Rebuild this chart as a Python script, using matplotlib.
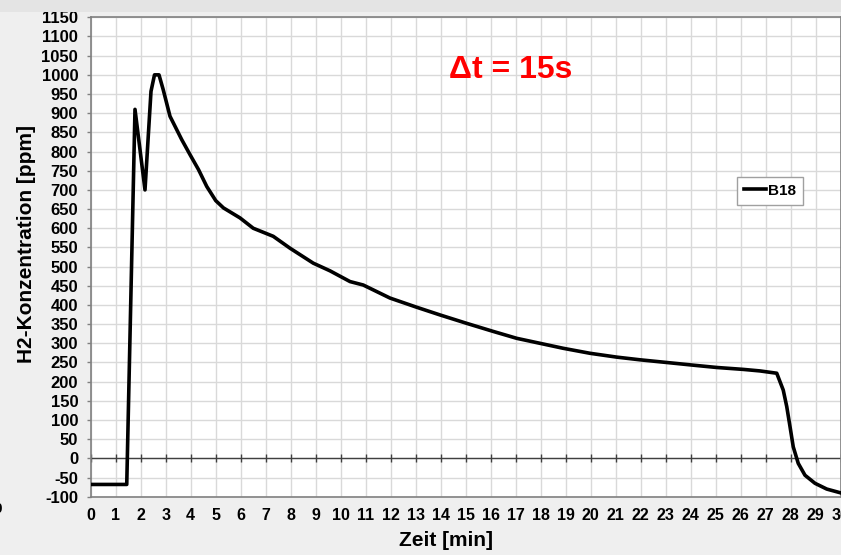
import matplotlib

matplotlib.use("Agg")
import matplotlib.pyplot as plt
import numpy as np
from matplotlib.patches import Rectangle

# H2 concentration of sample B18 over time.
zeit_min = [0.0, 1.44, 1.77, 2.17, 2.41, 2.55, 2.73, 2.9, 3.17, 3.64, 3.97,
            4.31, 4.64, 5.0, 5.31, 5.97, 6.5, 7.3, 7.97, 8.9, 9.57, 10.37,
            10.9, 11.97, 13.04, 13.97, 15.04, 16.1, 17.04, 17.97, 18.9,
            19.97, 21.04, 21.97, 23.04, 24.1, 25.04, 26.1, 26.77, 27.44,
            27.7, 27.84, 27.97, 28.1, 28.3, 28.57, 28.97, 29.44, 30.0]
h2_ppm = [-68, -68, 910, 700, 957, 1000, 1000, 961, 892, 831, 792,
          753, 709, 672, 653, 627, 600, 579, 548, 509, 489, 461,
          452, 418, 394, 374, 352, 331, 313, 300, 287,
          274, 264, 257, 250, 243, 237, 232, 228, 222,
          178, 135, 83, 30, -13, -44, -65, -80, -90]
series_label = "B18"
annotation = "\u0394t = 15s"

x_ticks = np.arange(0, 31, 1)
y_ticks = np.arange(-100, 1151, 50)

plt.rcParams['font.family'] = ['Liberation Sans', 'DejaVu Sans']
plt.rcParams['axes.unicode_minus'] = False

fig = plt.figure(figsize=(8.41, 5.55), dpi=100)
fig.patch.set_facecolor('#efefef')
# slightly darker band along the very top
fig.patches.append(Rectangle((0, 0.978), 1, 0.022, transform=fig.transFigure,
                             facecolor='#e4e4e4', edgecolor='none', zorder=0))

ax = fig.add_axes([0.1079, 0.105, 0.8918, 0.8638])
ax.set_facecolor('white')

ax.set_xlim(0, 30)
ax.set_ylim(-100, 1150)
ax.set_xticks(x_ticks)
ax.set_yticks(y_ticks)
ax.grid(True, color='#d9d9d9', linewidth=1.0)
ax.set_axisbelow(True)

for side in ['left', 'top', 'bottom', 'right']:
    ax.spines[side].set_color('#808080')
    ax.spines[side].set_linewidth(1.2)

ax.tick_params(axis='x', length=0, pad=8, labelsize=11.5)
ax.tick_params(axis='y', length=3, width=1, color='#808080', pad=6, labelsize=12)
for lab in ax.get_xticklabels() + ax.get_yticklabels():
    lab.set_fontweight('bold')

# zero line with small tick marks at every minute
ax.axhline(0, color='#404040', linewidth=1.0, zorder=1)
ax.plot(x_ticks, np.zeros_like(x_ticks), linestyle='none', marker='|',
        markersize=6, color='#404040', markeredgewidth=1.0, zorder=1)

ax.plot(zeit_min, h2_ppm, color='black', linewidth=2.6, label=series_label,
        solid_joinstyle='round', zorder=3)

ax.set_xlabel("Zeit [min]", fontsize=15, fontweight='bold')
ax.xaxis.set_label_coords(0.474, -0.092)
ax.xaxis.label.set_va('center')
ax.set_ylabel("H2-Konzentration [ppm]", fontsize=15, fontweight='bold')
ax.yaxis.set_label_coords(-0.085, 0.527)
ax.yaxis.label.set_va('center')

ax.text(0.56, 0.89, annotation, transform=ax.transAxes, color='#ff0000',
        fontsize=23, fontweight='bold', ha='center', va='center')

leg = ax.legend(loc='upper left', bbox_to_anchor=(0.854, 0.680), fancybox=False,
                framealpha=1, edgecolor='#a0a0a0', handlelength=1.4,
                handletextpad=0.15, borderpad=0.45, borderaxespad=0.4,
                prop={'weight': 'bold', 'size': 11})
leg.get_frame().set_linewidth(1.0)

# partially visible label at the far left edge
fig.text(-0.003, 0.083, "0", fontsize=11, fontweight='bold', ha='center', va='center')

fig.savefig("out.png", dpi=100, facecolor=fig.get_facecolor())
plt.close(fig)
